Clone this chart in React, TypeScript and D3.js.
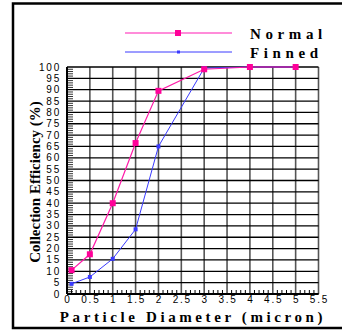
import React from "react";
import * as d3 from "d3";

const diameters = [0.1, 0.5, 1, 1.5, 2, 3, 4, 5];
const normalEff = [10.5, 17.5, 40, 66.5, 89.5, 99, 100, 100];
const finnedEff = [4.5, 7.5, 15.5, 28.5, 65, 99.5, 100, 100];
const xTicks = [0, 0.5, 1, 1.5, 2, 2.5, 3, 3.5, 4, 4.5, 5, 5.5];
const yTicks = [0, 5, 10, 15, 20, 25, 30, 35, 40, 45, 50, 55, 60, 65, 70, 75, 80, 85, 90, 95, 100];

const W = 342, H = 330;
const x = d3.scaleLinear().domain([0, 5.5]).range([67, 318.5]);
const y = d3.scaleLinear().domain([0, 100]).range([294, 67]);

const pink = "#ff1aa8";
const blue = "#3a3aff";

export default function App() {
  const line = d3.line<number>().x((_, i) => x(diameters[i])).y((d) => y(d));
  const minorX = d3.range(0, 55).map((i) => i / 10).filter((v) => Math.round(v * 10) % 5 !== 0);
  const minorY = d3.range(0, 100).filter((v) => v % 5 !== 0);
  const sans = "Liberation Sans, Arial, sans-serif";
  const serif = "Liberation Serif, Times New Roman, serif";
  return (
    <svg width={W} height={H} style={{ position: "absolute", left: 0, top: 0 }}>
      <rect x={0} y={0} width={W} height={H} fill="#fff" />
      <rect x={13} y={3.5} width={W + 10} height={324.5} fill="none" stroke="#000" strokeWidth={2.5} />
      {/* grid */}
      {xTicks.map((t) => (
        <line key={"gx" + t} x1={x(t)} x2={x(t)} y1={y(0)} y2={y(100)} stroke="#555" strokeWidth={1.6} />
      ))}
      {yTicks.map((t) => (
        <line key={"gy" + t} x1={x(0)} x2={x(5.5)} y1={y(t)} y2={y(t)} stroke="#000" strokeWidth={1.3} />
      ))}
      <line x1={x(0)} x2={x(0)} y1={y(0)} y2={y(100)} stroke="#000" strokeWidth={2} />
      <line x1={x(0)} x2={x(5.5)} y1={y(0)} y2={y(0)} stroke="#000" strokeWidth={2} />
      {minorY.map((t) => (
        <line key={"my" + t} x1={x(0)} x2={x(0) + 6} y1={y(t)} y2={y(t)} stroke="#000" strokeWidth={0.8} />
      ))}
      {minorX.map((t) => (
        <line key={"mx" + t} x1={x(t)} x2={x(t)} y1={y(0)} y2={y(0) - 4} stroke="#000" strokeWidth={1} />
      ))}
      {/* tick labels */}
      {yTicks.map((t) => (
        <text key={"ly" + t} x={61} y={y(t) + 3.5} textAnchor="end" fontFamily={sans} fontSize={10} style={{ letterSpacing: "1.8px" }}>
          {String(t)}
        </text>
      ))}
      {xTicks.map((t) => (
        <text key={"lx" + t} x={x(t) + 1} y={303} textAnchor="middle" fontFamily={sans} fontSize={10} style={{ letterSpacing: "1.8px" }}>
          {String(t)}
        </text>
      ))}
      {/* series */}
      <path d={line(finnedEff) || ""} fill="none" stroke={blue} strokeWidth={1} />
      <path d={line(normalEff) || ""} fill="none" stroke={pink} strokeWidth={1.2} />
      {finnedEff.map((v, i) => (
        <rect key={"fm" + i} x={x(diameters[i]) - 2} y={y(v) - 2} width={4} height={4} fill={blue} />
      ))}
      {normalEff.map((v, i) => (
        <rect key={"nm" + i} x={x(diameters[i]) - 3} y={y(v) - 3} width={6} height={6} fill="#ff0099" />
      ))}
      {/* legend */}
      <line x1={125} x2={232} y1={33} y2={33} stroke="#ff66cc" strokeWidth={1.5} />
      <rect x={175} y={30} width={6} height={6} fill="#ff0099" />
      <line x1={125} x2={232} y1={52} y2={52} stroke={blue} strokeWidth={1} />
      <rect x={177} y={50.5} width={3} height={3} fill={blue} />
      <text x={250} y={38.5} fontFamily={serif} fontWeight="bold" fontSize={15} style={{ letterSpacing: "4.6px" }}>Normal</text>
      <text x={250} y={57.5} fontFamily={serif} fontWeight="bold" fontSize={15} style={{ letterSpacing: "4.6px" }}>Finned</text>
      {/* axis titles */}
      <text x={193} y={322} textAnchor="middle" fontFamily={serif} fontWeight="bold" fontSize={15} style={{ letterSpacing: "3.6px" }}>
        Particle Diameter (micron)
      </text>
      <text transform={`translate(40,182) rotate(-90)`} textAnchor="middle" fontFamily={serif} fontWeight="bold" fontSize={15}>
        Collection Efficiency (%)
      </text>
    </svg>
  );
}
